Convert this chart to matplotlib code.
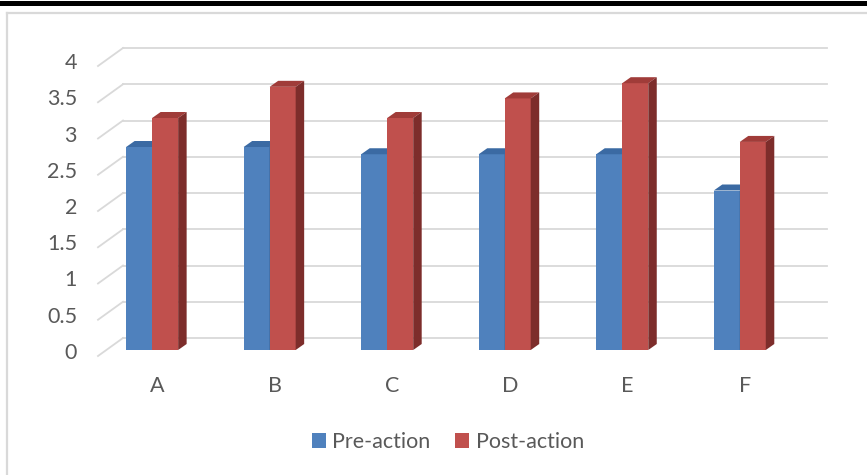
import matplotlib
matplotlib.use("Agg")
import matplotlib.pyplot as plt
from matplotlib.patches import Polygon, Rectangle
from matplotlib.lines import Line2D

categories = ["A", "B", "C", "D", "E", "F"]
pre_action = [2.8, 2.8, 2.7, 2.7, 2.7, 2.2]
post_action = [3.2, 3.63, 3.2, 3.47, 3.68, 2.87]
y_ticks = [0, 0.5, 1, 1.5, 2, 2.5, 3, 3.5, 4]
y_tick_labels = ["0", "0.5", "1", "1.5", "2", "2.5", "3", "3.5", "4"]

BLUE = "#4F81BD"
BLUE_TOP = "#3B6AA3"
BLUE_SIDE = "#2F5685"
RED = "#C0504D"
RED_TOP = "#A03C39"
RED_SIDE = "#7D2D2B"
GRID = "#D9D9D9"
TEXT = "#595959"
FONT = "Lato"
FS = 15.5

W, H = 867, 475
fig = plt.figure(figsize=(W / 100, H / 100), dpi=100)

# axes cover the front plane of the bars, pixels -> figure fractions
ax_left, ax_right = 106.3, 810.3
ax_y0, ax_y4 = 350, 60
ax = fig.add_axes([ax_left / W, (H - ax_y0) / H,
                   (ax_right - ax_left) / W, (ax_y0 - ax_y4) / H])
x_min, x_max = -0.39, 5.6
ax.set_xlim(x_min, x_max)
ax.set_ylim(0, 4)
ax.axis("off")

# one pixel in data units
px_x = (x_max - x_min) / (ax_right - ax_left)
px_y = 4 / (ax_y0 - ax_y4)

bar_w = 26 * px_x
depth_x, depth_y = 8.5 * px_x, 6 * px_y      # bar depth
wall_x, wall_y = 16.7 * px_x, 12 * px_y      # back wall offset
floor_x, floor_y = -8.3 * px_x, -6 * px_y    # front edge of floor

# back wall gridlines + diagonal lines on the left side wall
for t in y_ticks:
    ax.add_line(Line2D([x_min + wall_x, x_max + wall_x], [t + wall_y, t + wall_y],
                       color=GRID, lw=1.3, clip_on=False, zorder=1))
    ax.add_line(Line2D([x_min + floor_x, x_min + wall_x], [t + floor_y, t + wall_y],
                       color=GRID, lw=1.3, clip_on=False, zorder=1))

for t, lab in zip(y_ticks, y_tick_labels):
    ax.text(x_min + floor_x - 21 * px_x, t + floor_y + 3 * px_y, lab,
            ha="right", va="center", fontsize=FS, color=TEXT, family=FONT)


def draw_3d_bars(xs, vals, front, top, side, label, z):
    bars = ax.bar(xs, vals, width=bar_w, color=front, label=label,
                  zorder=z, clip_on=False, linewidth=0)
    for x, v in zip(xs, vals):
        x0, x1 = x - bar_w / 2, x + bar_w / 2
        ax.add_patch(Polygon([(x0, v), (x1, v), (x1 + depth_x, v + depth_y),
                              (x0 + depth_x, v + depth_y)],
                             closed=True, facecolor=top, edgecolor="none",
                             zorder=z, clip_on=False))
        ax.add_patch(Polygon([(x1, 0), (x1, v), (x1 + depth_x, v + depth_y),
                              (x1 + depth_x, depth_y)],
                             closed=True, facecolor=side, edgecolor="none",
                             zorder=z, clip_on=False))
    return bars


xs = list(range(len(categories)))
b1 = draw_3d_bars([x - bar_w / 2 for x in xs], pre_action, BLUE, BLUE_TOP, BLUE_SIDE,
                  "Pre-action", 2)
b2 = draw_3d_bars([x + bar_w / 2 for x in xs], post_action, RED, RED_TOP, RED_SIDE,
                  "Post-action", 3)

for x, c in zip(xs, categories):
    ax.text(x + 5 * px_x, -36 * px_y, c, ha="center", va="center",
            fontsize=FS, color=TEXT, family=FONT)

leg = fig.legend(handles=[b1, b2], loc="center", bbox_to_anchor=(448 / W, 1 - 442 / H),
                 ncol=2, frameon=False, handlelength=0.65, handleheight=0.65,
                 handletextpad=0.3, columnspacing=1.15,
                 prop={"family": FONT, "size": FS})
for t in leg.get_texts():
    t.set_color(TEXT)

# chart frame and the black rule above it
fig.add_artist(Rectangle((0, 1 - 6 / H), 1, 5 / H, transform=fig.transFigure,
                         facecolor="black", edgecolor="none"))
fig.add_artist(Line2D([7 / W, 1], [1 - 13 / H, 1 - 13 / H], transform=fig.transFigure,
                      color=GRID, lw=1.6))
fig.add_artist(Line2D([7 / W, 7 / W], [0, 1 - 13 / H], transform=fig.transFigure,
                      color=GRID, lw=1.6))

fig.savefig("out.png", dpi=100)
